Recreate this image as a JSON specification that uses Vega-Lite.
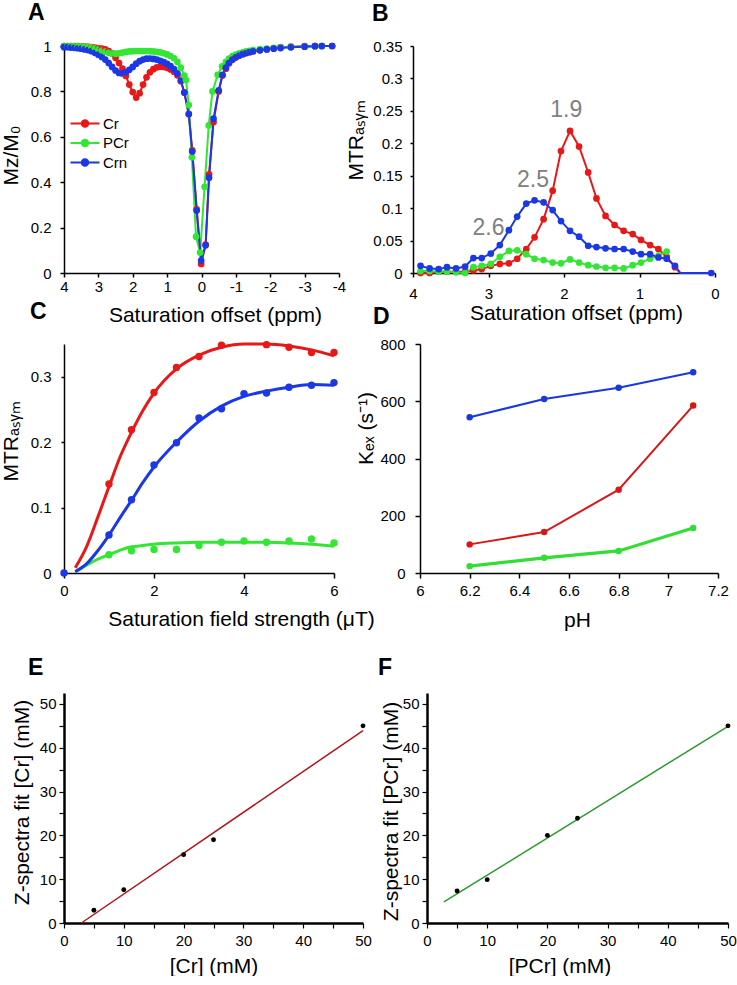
{
"$schema": "https://vega.github.io/schema/vega-lite/v6.json",
"padding": {"left": 0, "top": 2, "right": 0, "bottom": 0},
"spacing": 27,
"resolve": {"scale": {"color": "independent", "fill": "independent", "stroke": "independent"}, "legend": {"color": "independent", "fill": "independent", "stroke": "independent"}},
"datasets": {
"zs": [
{"x":4.0,"Cr":1.0,"PCr":1.0,"Crn":0.995},
{"x":3.9,"Cr":1.0,"PCr":1.0,"Crn":0.995},
{"x":3.8,"Cr":1.0,"PCr":1.0,"Crn":0.993},
{"x":3.7,"Cr":1.0,"PCr":1.0,"Crn":0.992},
{"x":3.6,"Cr":0.999,"PCr":0.999,"Crn":0.99},
{"x":3.5,"Cr":0.998,"PCr":0.998,"Crn":0.988},
{"x":3.4,"Cr":0.997,"PCr":0.997,"Crn":0.985},
{"x":3.3,"Cr":0.996,"PCr":0.996,"Crn":0.982},
{"x":3.2,"Cr":0.995,"PCr":0.994,"Crn":0.977},
{"x":3.1,"Cr":0.993,"PCr":0.99,"Crn":0.97},
{"x":3.0,"Cr":0.99,"PCr":0.985,"Crn":0.962},
{"x":2.9,"Cr":0.988,"PCr":0.98,"Crn":0.952},
{"x":2.8,"Cr":0.985,"PCr":0.975,"Crn":0.94},
{"x":2.7,"Cr":0.978,"PCr":0.97,"Crn":0.925},
{"x":2.6,"Cr":0.968,"PCr":0.966,"Crn":0.908},
{"x":2.5,"Cr":0.948,"PCr":0.966,"Crn":0.892},
{"x":2.4,"Cr":0.925,"PCr":0.968,"Crn":0.881},
{"x":2.3,"Cr":0.9,"PCr":0.971,"Crn":0.879},
{"x":2.2,"Cr":0.868,"PCr":0.974,"Crn":0.884},
{"x":2.1,"Cr":0.83,"PCr":0.976,"Crn":0.895},
{"x":2.0,"Cr":0.797,"PCr":0.977,"Crn":0.908},
{"x":1.9,"Cr":0.773,"PCr":0.978,"Crn":0.922},
{"x":1.8,"Cr":0.792,"PCr":0.978,"Crn":0.933},
{"x":1.7,"Cr":0.83,"PCr":0.978,"Crn":0.94},
{"x":1.6,"Cr":0.862,"PCr":0.978,"Crn":0.944},
{"x":1.5,"Cr":0.884,"PCr":0.977,"Crn":0.945},
{"x":1.4,"Cr":0.898,"PCr":0.976,"Crn":0.943},
{"x":1.3,"Cr":0.906,"PCr":0.974,"Crn":0.94},
{"x":1.2,"Cr":0.909,"PCr":0.972,"Crn":0.935},
{"x":1.1,"Cr":0.908,"PCr":0.968,"Crn":0.929},
{"x":1.0,"Cr":0.904,"PCr":0.963,"Crn":0.921},
{"x":0.9,"Cr":0.897,"PCr":0.956,"Crn":0.911},
{"x":0.8,"Cr":0.887,"PCr":0.946,"Crn":0.898},
{"x":0.7,"Cr":0.871,"PCr":0.93,"Crn":0.879},
{"x":0.6,"Cr":0.845,"PCr":0.905,"Crn":0.848},
{"x":0.5,"Cr":0.795,"PCr":0.87,"Crn":0.795},
{"x":0.45,"PCr":0.85},
{"x":0.37,"Cr":0.7,"PCr":0.74,"Crn":0.7},
{"x":0.28,"PCr":0.51},
{"x":0.27,"Cr":0.54,"Crn":0.535},
{"x":0.16,"PCr":0.16},
{"x":0.14,"Cr":0.28,"Crn":0.275},
{"x":0.04,"PCr":0.09},
{"x":0.01,"Cr":0.04,"Crn":0.055},
{"x":-0.09,"PCr":0.38},
{"x":-0.12,"Cr":0.125,"Crn":0.122},
{"x":-0.21,"PCr":0.65},
{"x":-0.22,"Cr":0.435,"Crn":0.42},
{"x":-0.32,"PCr":0.8},
{"x":-0.35,"Cr":0.665,"Crn":0.68},
{"x":-0.47,"PCr":0.873},
{"x":-0.5,"Cr":0.8,"Crn":0.805},
{"x":-0.6,"PCr":0.91},
{"x":-0.61,"Cr":0.87,"Crn":0.873},
{"x":-0.71,"Cr":0.9,"PCr":0.93,"Crn":0.905},
{"x":-0.8,"Cr":0.925,"PCr":0.945,"Crn":0.925},
{"x":-0.9,"Cr":0.94,"PCr":0.955,"Crn":0.94},
{"x":-1.0,"Cr":0.95,"PCr":0.962,"Crn":0.95},
{"x":-1.1,"Cr":0.958,"PCr":0.968,"Crn":0.958},
{"x":-1.2,"Cr":0.965,"PCr":0.972,"Crn":0.964},
{"x":-1.3,"Cr":0.97,"PCr":0.976,"Crn":0.969},
{"x":-1.4,"Cr":0.974,"PCr":0.979,"Crn":0.973},
{"x":-1.5,"Cr":0.977,"PCr":0.982,"Crn":0.976},
{"x":-1.7,"Cr":0.982,"PCr":0.986,"Crn":0.981},
{"x":-1.9,"Cr":0.986,"PCr":0.989,"Crn":0.985},
{"x":-2.1,"Cr":0.99,"PCr":0.992,"Crn":0.988},
{"x":-2.3,"Cr":0.995,"PCr":0.994,"Crn":0.991},
{"x":-2.6,"Cr":0.997,"PCr":0.996,"Crn":0.994},
{"x":-3.0,"Cr":0.999,"PCr":0.998,"Crn":0.997},
{"x":-3.3,"Cr":1.0,"PCr":0.999,"Crn":0.999},
{"x":-3.5,"Cr":1.0,"PCr":1.0,"Crn":1.0},
{"x":-3.8,"Cr":1.0,"Crn":1.0}
],
"mtr": [
{"x":3.9,"Cr":0.0,"PCr":0.003,"Crn":0.011},
{"x":3.78,"Cr":0.0,"PCr":0.003,"Crn":0.007},
{"x":3.66,"Cr":0.002,"PCr":0.002,"Crn":0.006},
{"x":3.55,"Cr":0.002,"PCr":0.002,"Crn":0.009},
{"x":3.43,"Cr":0.002,"PCr":0.001,"Crn":0.007},
{"x":3.31,"Cr":0.002,"PCr":0.0,"Crn":0.01},
{"x":3.2,"Cr":0.004,"PCr":0.009,"Crn":0.023},
{"x":3.09,"Cr":0.006,"PCr":0.011,"Crn":0.023},
{"x":2.97,"Cr":0.011,"PCr":0.014,"Crn":0.03},
{"x":2.85,"Cr":0.014,"PCr":0.025,"Crn":0.043},
{"x":2.73,"Cr":0.015,"PCr":0.034,"Crn":0.066},
{"x":2.62,"Cr":0.022,"PCr":0.035,"Crn":0.087},
{"x":2.5,"Cr":0.037,"PCr":0.029,"Crn":0.107},
{"x":2.39,"Cr":0.055,"PCr":0.022,"Crn":0.112},
{"x":2.27,"Cr":0.083,"PCr":0.02,"Crn":0.109},
{"x":2.15,"Cr":0.127,"PCr":0.016,"Crn":0.097},
{"x":2.04,"Cr":0.188,"PCr":0.015,"Crn":0.08},
{"x":1.92,"Cr":0.219,"PCr":0.021,"Crn":0.065},
{"x":1.8,"Cr":0.195,"PCr":0.016,"Crn":0.056},
{"x":1.68,"Cr":0.155,"PCr":0.012,"Crn":0.042},
{"x":1.57,"Cr":0.115,"PCr":0.01,"Crn":0.04},
{"x":1.45,"Cr":0.088,"PCr":0.008,"Crn":0.038},
{"x":1.33,"Cr":0.074,"PCr":0.008,"Crn":0.037},
{"x":1.21,"Cr":0.065,"PCr":0.007,"Crn":0.037},
{"x":1.09,"Cr":0.06,"PCr":0.012,"Crn":0.033},
{"x":0.98,"Cr":0.051,"PCr":0.016,"Crn":0.029},
{"x":0.86,"Cr":0.043,"PCr":0.022,"Crn":0.029},
{"x":0.75,"Cr":0.037,"PCr":0.027,"Crn":0.024},
{"x":0.64,"Cr":0.025,"PCr":0.033,"Crn":0.022},
{"x":0.53,"Cr":0.009,"Crn":0.011},
{"x":0.46,"Cr":0,"Crn":0},
{"x":0.05,"Crn":0}
],
"bl": [
{"x":1.97,"v":0.251,"t":"1.9"},
{"x":2.41,"v":0.143,"t":"2.5"},
{"x":3.0,"v":0.069,"t":"2.6"}
],
"cdot": [
{"x":0,"Crn":0},
{"x":1.0,"Cr":0.136,"PCr":0.028,"Crn":0.058},
{"x":1.5,"Cr":0.219,"PCr":0.034,"Crn":0.112},
{"x":2.0,"Cr":0.276,"PCr":0.036,"Crn":0.165},
{"x":2.5,"Cr":0.314,"PCr":0.036,"Crn":0.199},
{"x":3.0,"Cr":0.331,"PCr":0.042,"Crn":0.237},
{"x":3.5,"Cr":0.348,"PCr":0.047,"Crn":0.251},
{"x":4.0,"PCr":0.049,"Crn":0.274},
{"x":4.5,"Cr":0.349,"PCr":0.047,"Crn":0.275},
{"x":5.0,"Cr":0.345,"PCr":0.049,"Crn":0.284},
{"x":5.5,"Cr":0.337,"PCr":0.052,"Crn":0.287},
{"x":6.0,"Cr":0.337,"PCr":0.046,"Crn":0.291}
],
"cfit": [
{"x":0.25,"Cr":0.008,"PCr":0.002,"Crn":0.002},
{"x":0.5,"Cr":0.04,"PCr":0.012,"Crn":0.014},
{"x":0.75,"Cr":0.085,"PCr":0.021,"Crn":0.034},
{"x":1.0,"Cr":0.132,"PCr":0.028,"Crn":0.058},
{"x":1.25,"Cr":0.178,"PCr":0.035,"Crn":0.085},
{"x":1.5,"Cr":0.215,"PCr":0.04,"Crn":0.111},
{"x":1.75,"Cr":0.248,"PCr":0.042,"Crn":0.138},
{"x":2.0,"Cr":0.275,"PCr":0.044,"Crn":0.162},
{"x":2.5,"Cr":0.312,"PCr":0.046,"Crn":0.2},
{"x":3.0,"Cr":0.333,"PCr":0.047,"Crn":0.232},
{"x":3.5,"Cr":0.345,"PCr":0.047,"Crn":0.255},
{"x":4.0,"Cr":0.35,"PCr":0.047,"Crn":0.27},
{"x":4.5,"Cr":0.35,"PCr":0.047,"Crn":0.278},
{"x":5.0,"Cr":0.347,"PCr":0.046,"Crn":0.284},
{"x":5.5,"Cr":0.341,"PCr":0.044,"Crn":0.288},
{"x":6.0,"Cr":0.332,"PCr":0.041,"Crn":0.287}
],
"kex": [
{"x":6.2,"Cr":100,"PCr":24,"Crn":544},
{"x":6.5,"Cr":143,"PCr":53,"Crn":608},
{"x":6.8,"Cr":291,"PCr":77,"Crn":647},
{"x":7.1,"Cr":585,"PCr":157,"Crn":701}
],
"ep": [
{"x":5,"y":2.9},{"x":10,"y":7.6},{"x":20,"y":15.6},{"x":25,"y":19},{"x":50,"y":45}
],
"el": [
{"x":2.9,"y":0},{"x":50,"y":43.9}
],
"fp": [
{"x":5,"y":7.3},{"x":10,"y":9.9},{"x":20,"y":20},{"x":25,"y":23.9},{"x":50,"y":45}
],
"fl": [
{"x":2.8,"y":4.8},{"x":50,"y":44.9}
]
},
"vconcat": [
{"spacing": -24,
 "resolve": {"scale": {"color": "independent", "fill": "independent", "stroke": "independent"}, "legend": {"color": "independent", "fill": "independent", "stroke": "independent"}},
 "vconcat": [
{"bounds": "flush", "spacing": 74,
 "resolve": {"scale": {"color": "independent", "fill": "independent", "stroke": "independent"}, "legend": {"color": "independent", "fill": "independent", "stroke": "independent"}},
 "hconcat": [
{
"width": 275, "height": 227,
"title": {"text": "A", "dx": -36, "offset": 14},
"data": {"name": "zs"},
"encoding": {
  "x": {"field": "x", "type": "quantitative", "scale": {"domain": [-4,4], "reverse": true, "nice": false, "zero": false},
        "axis": {"values": [-4,-3,-2,-1,0,1,2,3,4], "labelExpr": "'' + datum.value", "labelOverlap": false, "title": "Saturation offset (ppm)", "tickSize": 4, "labelPadding": 2, "titleX": 151, "titleY": 48}},
  "y": {"field": "v", "type": "quantitative", "scale": {"domain": [0,1], "nice": false},
        "axis": {"values": [0,0.2,0.4,0.6,0.8,1], "labelExpr": "'' + datum.value", "labelOverlap": false, "title": "Mz/M₀", "tickSize": 4, "labelPadding": 9, "titleX": -47, "titleY": 109}}
},
"layer": [
{"transform": [{"fold": ["Cr","PCr","Crn"], "as": ["k","v"]}, {"filter": "isValid(datum.v)"}],
 "mark": {"type": "line", "strokeWidth": 2},
 "encoding": {
  "stroke": {"field": "k", "type": "nominal", "scale": {"range": ["#e81818","#1a38e6","#33e633"]}, "legend": null}
 }},
{"transform": [{"fold": ["Cr","PCr","Crn"], "as": ["s","v"]}, {"filter": "isValid(datum.v)"}],
 "mark": {"type": "point", "filled": true, "size": 45, "opacity": 1},
 "encoding": {
  "color": {"field": "s", "type": "nominal", "scale": {"domain": ["Cr","PCr","Crn"], "range": ["#e81818","#33e633","#1a38e6"]},
           "legend": {"orient": "none", "legendX": 13.5, "legendY": 70, "title": null, "padding": 0,
                      "symbolType": "M-2.9,-0.2L2.9,-0.2L2.9,0.2L-2.9,0.2Z M0.85,0A0.85,0.85 0 1,1 -0.85,0A0.85,0.85 0 1,1 0.85,0Z",
                      "symbolSize": 100, "symbolStrokeWidth": 0, "symbolOpacity": 1, "labelFontSize": 15, "labelFont": "Liberation Sans", "labelColor": "#000", "labelOffset": 10.5, "rowPadding": 3.5}}
 }}
]
},
{
"width": 302, "height": 227,
"title": {"text": "B", "dx": -41, "offset": 13.5},
"encoding": {
  "x": {"field": "x", "type": "quantitative", "scale": {"domain": [0,4], "reverse": true, "nice": false, "zero": false},
        "axis": {"values": [0,1,2,3,4], "labelExpr": "'' + datum.value", "labelOverlap": false, "title": "Saturation offset (ppm)", "tickSize": 4, "labelPadding": 9, "titleX": 163, "titleY": 46}},
  "y": {"field": "v", "type": "quantitative", "scale": {"domain": [0,0.35], "nice": false},
        "axis": {"values": [0,0.05,0.1,0.15,0.2,0.25,0.3,0.35], "labelExpr": "'' + datum.value", "labelOverlap": false, "title": "MTRₐₛᵧₘ", "tickSize": 3, "labelPadding": 8, "titleX": -51, "titleY": 94}}
},
"layer": [
{"data": {"name": "mtr"},
 "transform": [{"fold": ["Cr","PCr","Crn"], "as": ["k","v"]}, {"filter": "isValid(datum.v)"}],
 "mark": {"type": "line", "strokeWidth": 2},
 "encoding": {
  "stroke": {"field": "k", "type": "nominal", "scale": {"domain": ["Cr","PCr","Crn"], "range": ["#e81818","#33e633","#1a38e6"]}, "legend": null}
 }},
{"data": {"name": "mtr"},
 "transform": [{"fold": ["Cr","PCr","Crn"], "as": ["s","v"]}, {"filter": "isValid(datum.v) && datum.x != 0.46"}],
 "mark": {"type": "point", "filled": true, "size": 45, "opacity": 1},
 "encoding": {
  "fill": {"field": "s", "type": "nominal", "scale": {"domain": ["Cr","PCr","Crn"], "range": ["#e81818","#33e633","#1a38e6"]}, "legend": null}
 }},
{"data": {"name": "bl"},
 "mark": {"type": "text", "fontSize": 23, "font": "Liberation Sans", "color": "#808080", "align": "center", "baseline": "middle"},
 "encoding": {
  "text": {"field": "t"}
 }}
]
}
]},
{"bounds": "flush", "spacing": 86,
 "resolve": {"scale": {"color": "independent", "fill": "independent", "stroke": "independent"}, "legend": {"color": "independent", "fill": "independent", "stroke": "independent"}},
 "hconcat": [
{
"width": 270, "height": 229,
"title": {"text": "C", "dx": -34, "offset": 14},
"encoding": {
  "x": {"field": "x", "type": "quantitative", "scale": {"domain": [0,6], "nice": false, "zero": false},
        "axis": {"values": [0,2,4,6], "labelOverlap": false, "title": "Saturation field strength (μT)", "tickSize": 5, "labelPadding": 5, "titleX": 177, "titleY": 52}},
  "y": {"field": "v", "type": "quantitative", "scale": {"domain": [0,0.35], "nice": false},
        "axis": {"values": [0,0.1,0.2,0.3], "labelExpr": "'' + datum.value", "labelOverlap": false, "title": "MTRₐₛᵧₘ", "tickSize": 3, "labelPadding": 10, "titleX": -47, "titleY": 97}}
},
"layer": [
{"data": {"name": "cfit"},
 "transform": [{"fold": ["Cr","PCr","Crn"], "as": ["k","v"]}, {"filter": "isValid(datum.v)"}],
 "mark": {"type": "line", "strokeWidth": 3, "interpolate": "monotone"},
 "encoding": {
  "stroke": {"field": "k", "type": "nominal", "scale": {"domain": ["Cr","PCr","Crn"], "range": ["#e81818","#33e633","#1a38e6"]}, "legend": null}
 }},
{"data": {"name": "cdot"},
 "transform": [{"fold": ["Cr","PCr","Crn"], "as": ["s","v"]}, {"filter": "isValid(datum.v)"}],
 "mark": {"type": "point", "filled": true, "size": 55, "opacity": 1},
 "encoding": {
  "fill": {"field": "s", "type": "nominal", "scale": {"domain": ["Cr","PCr","Crn"], "range": ["#e81818","#33e633","#1a38e6"]}, "legend": null}
 }}
]
},
{
"width": 298, "height": 229,
"title": {"text": "D", "dx": -47, "offset": 8.5},
"data": {"name": "kex"},
"encoding": {
  "x": {"field": "x", "type": "quantitative", "scale": {"domain": [6,7.2], "nice": false, "zero": false},
        "axis": {"values": [6,6.2,6.4,6.6,6.8,7,7.2], "labelExpr": "'' + datum.value", "labelOverlap": false, "title": "pH", "tickSize": 5, "labelPadding": 5, "titleX": 157, "titleY": 53}},
  "y": {"field": "v", "type": "quantitative", "scale": {"domain": [0,800], "nice": false},
        "axis": {"values": [0,200,400,600,800], "labelOverlap": false, "title": "Kₑₓ (s⁻¹)", "tickSize": 5, "labelPadding": 10, "titleX": -48, "titleY": 84}}
},
"layer": [
{"transform": [{"fold": ["Cr","PCr","Crn"], "as": ["k","v"]}, {"filter": "datum.k != 'PCr'"}],
 "mark": {"type": "line", "strokeWidth": 2},
 "encoding": {
  "stroke": {"field": "k", "type": "nominal", "scale": {"domain": ["Cr","PCr","Crn"], "range": ["#d81818","#33dd33","#1a38e0"]}, "legend": null}
 }},
{"transform": [{"fold": ["Cr","PCr","Crn"], "as": ["k","v"]}, {"filter": "datum.k == 'PCr'"}],
 "mark": {"type": "line", "strokeWidth": 3.2},
 "encoding": {
  "stroke": {"field": "k", "type": "nominal", "scale": {"domain": ["Cr","PCr","Crn"], "range": ["#d81818","#33dd33","#1a38e0"]}, "legend": null}
 }},
{"transform": [{"fold": ["Cr","PCr","Crn"], "as": ["s","v"]}],
 "mark": {"type": "point", "filled": true, "size": 42, "opacity": 1},
 "encoding": {
  "fill": {"field": "s", "type": "nominal", "scale": {"domain": ["Cr","PCr","Crn"], "range": ["#d81818","#33dd33","#1a38e0"]}, "legend": null}
 }}
]
}
]}
]},
{"bounds": "flush", "spacing": 64, "hconcat": [
{
"width": 299, "height": 230,
"title": {"text": "E", "dx": -36, "offset": 13},
"encoding": {
  "x": {"field": "x", "type": "quantitative", "scale": {"domain": [0,50], "nice": false, "zero": false},
        "axis": {"values": [0,5,10,15,20,25,30,35,40,45,50], "labelExpr": "datum.value % 10 == 0 ? '' + datum.value : ''", "labelOverlap": false, "title": "[Cr] (mM)", "domainWidth": 2.5, "tickWidth": 1.2, "tickSize": 5, "labelPadding": 5, "titleX": 149.5, "titleY": 49}},
  "y": {"field": "y", "type": "quantitative", "scale": {"domain": [0,52.5], "nice": false},
        "axis": {"values": [0,5,10,15,20,25,30,35,40,45,50], "labelExpr": "datum.value % 10 == 0 ? '' + datum.value : ''", "labelOverlap": false, "title": ["", "Z-spectra fit [Cr] (mM)"], "titleLineHeight": 9, "domainWidth": 2.5, "tickWidth": 1.2, "tickSize": 5, "labelPadding": 3, "titleX": -45, "titleY": 109}}
},
"layer": [
{"data": {"name": "el"},
 "mark": {"type": "line", "color": "#b3141c", "strokeWidth": 1.5}},
{"data": {"name": "ep"},
 "mark": {"type": "circle", "color": "#000", "size": 24, "opacity": 1}}
]
},
{
"width": 301, "height": 230,
"title": {"text": "F", "dx": -49, "offset": 13},
"encoding": {
  "x": {"field": "x", "type": "quantitative", "scale": {"domain": [0,50], "nice": false, "zero": false},
        "axis": {"values": [0,5,10,15,20,25,30,35,40,45,50], "labelExpr": "datum.value % 10 == 0 ? '' + datum.value : ''", "labelOverlap": false, "title": "[PCr] (mM)", "domainWidth": 2.5, "tickWidth": 1.2, "tickSize": 5, "labelPadding": 5, "titleX": 132.5, "titleY": 49}},
  "y": {"field": "y", "type": "quantitative", "scale": {"domain": [0,52.5], "nice": false},
        "axis": {"values": [0,5,10,15,20,25,30,35,40,45,50], "labelExpr": "datum.value % 10 == 0 ? '' + datum.value : ''", "labelOverlap": false, "title": "Z-spectra fit [PCr] (mM)", "domainWidth": 2.5, "tickWidth": 1.2, "tickSize": 5, "labelPadding": 3, "titleX": -30, "titleY": 118}}
},
"layer": [
{"data": {"name": "fl"},
 "mark": {"type": "line", "color": "#2e9a2e", "strokeWidth": 1.5}},
{"data": {"name": "fp"},
 "mark": {"type": "circle", "color": "#000", "size": 24, "opacity": 1}}
]
}
]}
],
"config": {
 "view": {"stroke": null},
 "font": "Liberation Sans",
 "axis": {"grid": false, "domainColor": "#000", "domainWidth": 1.5, "tickColor": "#000", "tickWidth": 1.5, "labelColor": "#000", "labelFontSize": 15, "labelFont": "Liberation Sans", "labelFlush": false, "labelOverlap": false, "labelBound": false, "titleFont": "Liberation Sans", "titleFontSize": 21, "titleFontWeight": "normal", "titleColor": "#000", "titleBaseline": "alphabetic", "titleAlign": "center"},
 "axisY": {"titleAngle": -90},
 "title": {"font": "Liberation Sans", "fontSize": 23, "fontWeight": "bold", "anchor": "start", "frame": "group", "baseline": "alphabetic", "color": "#000"}
}
}
